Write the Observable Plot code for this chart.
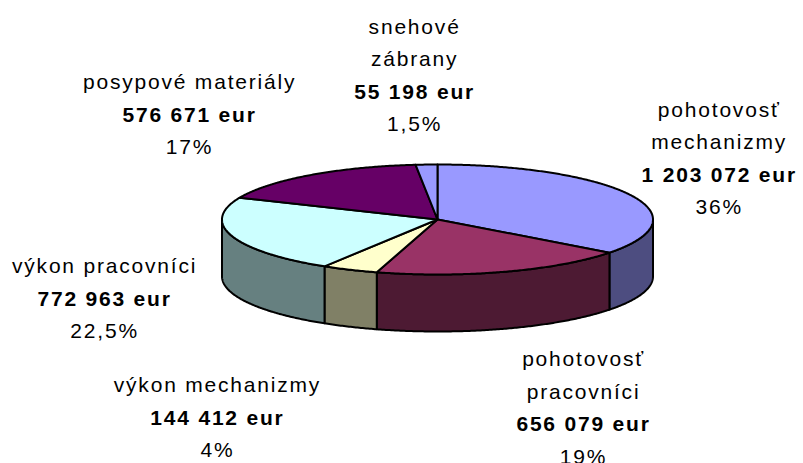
<!DOCTYPE html>
<html>
<head>
<meta charset="utf-8">
<script src="https://cdn.jsdelivr.net/npm/d3@7"></script>
<script src="https://cdn.jsdelivr.net/npm/@observablehq/plot@0.6"></script>
<style>
  html, body { margin: 0; padding: 0; background: #ffffff; }
  #chart { width: 803px; height: 463px; }
</style>
</head>
<body>
<div id="chart"></div>
<script>
// ---- data ----
const categories = ["pohotovosť mechanizmy", "pohotovosť pracovníci", "výkon mechanizmy", "výkon pracovníci", "posypové materiály", "snehové zábrany"];
const nameLines = [["pohotovosť", "mechanizmy"], ["pohotovosť", "pracovníci"], ["výkon mechanizmy"], ["výkon pracovníci"], ["posypové materiály"], ["snehové", "zábrany"]];
const values = [1203072, 656079, 144412, 772963, 576671, 55198];
const valueLabels = ["1 203 072 eur", "656 079 eur", "144 412 eur", "772 963 eur", "576 671 eur", "55 198 eur"];
const percentLabels = ["36%", "19%", "4%", "22,5%", "17%", "1,5%"];

// ---- styles / layout ----
const topColors = ["#9999FF", "#993366", "#FFFFCC", "#CCFFFF", "#660066", "#9999FF"];
const sideColors = ["#4D4D80", "#4D1A33", "#808066", "#668080", "#330033", "#4D4D80"];
const cx = 437, cy = 219, rx = 215.5, ry = 55, depthPx = 57;
const labelRx = 1.45, labelRy = 2.2, lineGap = 32.5;
const labelNudge = [[2, -7], [48, 17], [-93, 31], [-35, -14], [-63, -7], [-7, -23]]; // px

// ---- geometry from data ----
const TAU = 2 * Math.PI;
const total = d3.sum(values);
const DEPTH = depthPx / ry;
let cum = 0;
const slices = values.map((v, i) => {
  const a0 = cum / total * TAU; cum += v;
  const a1 = cum / total * TAU;
  return {i, a0, a1, mid: (a0 + a1) / 2};
});
function arc(a0, a1) {
  const n = Math.max(2, Math.ceil((a1 - a0) / (Math.PI / 360)));
  return d3.range(n + 1).map(k => {
    const a = a0 + (a1 - a0) * k / n;
    return {x: Math.sin(a), y: Math.cos(a)};
  });
}
const tops = [], sides = [];
slices.forEach(s => {
  const pts = [{x: 0, y: 0}, ...arc(s.a0, s.a1), {x: 0, y: 0}];
  pts.forEach(p => tops.push({...p, id: s.i, fill: topColors[s.i]}));
  const f0 = Math.max(s.a0, Math.PI / 2), f1 = Math.min(s.a1, 3 * Math.PI / 2);
  if (f1 > f0) {
    const a = arc(f0, f1);
    const b = a.slice().reverse().map(p => ({x: p.x, y: p.y - DEPTH}));
    [...a, ...b, a[0]].forEach(p => sides.push({...p, id: s.i, fill: sideColors[s.i]}));
  }
});
const labels = [];
slices.forEach(s => {
  const c = Math.cos(s.mid);
  const bx = labelRx * Math.sin(s.mid) + labelNudge[s.i][0] / rx;
  const by = labelRy * c - (c < 0 ? DEPTH : 0) - labelNudge[s.i][1] / ry;
  const lines = [...nameLines[s.i].map(t => ({t, bold: false})), {t: valueLabels[s.i], bold: true}, {t: percentLabels[s.i], bold: false}];
  const L = lines.length;
  lines.forEach((ln, j) => labels.push({x: bx, y: by - (j - (L - 1) / 2) * lineGap / ry, text: ln.t, bold: ln.bold}));
});

const chart = Plot.plot({
  width: 803,
  height: 463,
  margin: 0,
  x: {domain: [-1, 1], range: [cx - rx, cx + rx], axis: null},
  y: {domain: [-1, 1], range: [cy + ry, cy - ry], axis: null},
  color: {type: "identity"},
  style: {fontFamily: "Arial, 'Liberation Sans', sans-serif", background: "#ffffff", letterSpacing: "1.8px", overflow: "visible"},
  marks: [
    Plot.line(sides, {x: "x", y: "y", z: "id", fill: "fill", stroke: "#000000", strokeWidth: 2, strokeLinejoin: "round"}),
    Plot.line(tops, {x: "x", y: "y", z: "id", fill: "fill", stroke: "#000000", strokeWidth: 2, strokeLinejoin: "round"}),
    Plot.text(labels.filter(d => !d.bold), {x: "x", y: "y", text: "text", fontSize: 21, fill: "#000000"}),
    Plot.text(labels.filter(d => d.bold), {x: "x", y: "y", text: "text", fontSize: 21, fontWeight: "bold", fill: "#000000"})
  ]
});
document.getElementById("chart").appendChild(chart);
</script>
</body>
</html>
